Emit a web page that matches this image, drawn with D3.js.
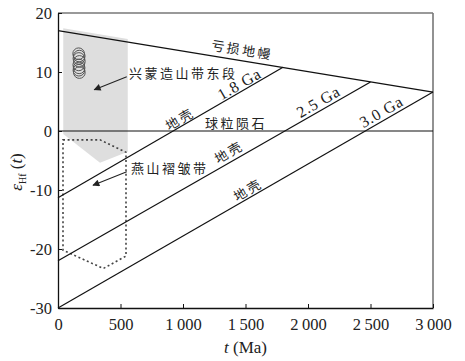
<!DOCTYPE html>
<html>
<head>
<meta charset="utf-8">
<script src="https://cdn.jsdelivr.net/npm/d3@7"></script>
<style>
  body { margin: 0; background: #fff; }
  svg text { font-family: "Liberation Serif", "DejaVu Serif", serif; }
  .cjk { font-family: "Noto Sans CJK SC", sans-serif; font-size: 13px; letter-spacing: 2.5px; fill: #222; }
</style>
</head>
<body>
<svg id="chart"></svg>
<script>
// axis ticks
var xTicks = [0, 500, 1000, 1500, 2000, 2500, 3000];
var yTicks = [-30, -20, -10, 0, 10, 20];

// evolution lines [t (Ma), eHf]
var depletedMantle = [[0, 17.0], [3000, 6.6]];
var chondrite = [[0, 0], [3000, 0]];
var crust18 = [[0, -11.3], [1800, 10.8]];
var crust25 = [[0, -22.0], [2500, 8.3]];
var crust30 = [[0, -30.0], [3000, 6.6]];

// fields
var xingmengArea = [[42, 17.4], [558, 15.6], [558, -3.5], [336, -5.4], [42, -0.5]];
var yanshanArea = [[40, -1.5], [336, -1.5], [544, -3.6], [544, -21.2], [363, -23.3], [40, -20.2]];

// zircon analyses
var zircons = [[165, 13.1], [170, 12.7], [167, 12.3], [171, 11.8], [166, 11.2], [169, 10.7], [167, 10.3], [171, 9.9]];

// labels along lines: [text, t, eHf, line, cjk]
var lineLabels = [
  ["亏损地幔", 1473, 13.7, depletedMantle, true],
  ["1.8 Ga", 1449, 8.0, crust18, false],
  ["地壳", 977, 2.0, crust18, true],
  ["2.5 Ga", 2082, 5.0, crust25, false],
  ["地壳", 1369, -3.6, crust25, true],
  ["3.0 Ga", 2586, 3.3, crust30, false],
  ["地壳", 1521, -10.0, crust30, true]
];

// callouts: [text, textT, textE, tailT, tailE, headT, headE]
var callouts = [
  ["兴蒙造山带东段", 568, 9.8, 550, 9.2, 290, 7.0],
  ["燕山褶皱带", 584, -6.3, 550, -6.9, 280, -9.2]
];

var config = { w: 465, h: 361, lpad: 58, tpad: 13, rpad: 32, bpad: 53 };

var svg = d3.select("#chart").attr("width", config.w).attr("height", config.h);

var x = d3.scaleLinear().domain([0, 3000]).range([config.lpad, config.w - config.rpad]);
var y = d3.scaleLinear().domain([-30, 20]).range([config.h - config.bpad, config.tpad]);

var line = d3.line()
  .x(function(d) { return x(d[0]); })
  .y(function(d) { return y(d[1]); });

svg.append("defs").append("marker")
  .attr("id", "arrow")
  .attr("viewBox", "0 0 10 10")
  .attr("refX", 9).attr("refY", 5)
  .attr("markerWidth", 9).attr("markerHeight", 7)
  .attr("markerUnits", "userSpaceOnUse")
  .attr("orient", "auto")
  .append("path")
  .attr("d", "M0,0L10,5L0,10z")
  .attr("fill", "#222");

var g = svg.append("g");

// fields
g.append("path")
  .attr("d", line(xingmengArea) + "Z")
  .attr("fill", "#dedede");

g.append("path")
  .attr("d", line(yanshanArea) + "Z")
  .attr("fill", "none")
  .attr("stroke", "#444")
  .attr("stroke-width", 1.6)
  .attr("stroke-dasharray", "2,2.6");

// frame top/right
g.append("line")
  .attr("x1", x(0)).attr("x2", x(3000)).attr("y1", y(20)).attr("y2", y(20))
  .attr("stroke", "#777").attr("stroke-width", 1.3);
g.append("line")
  .attr("x1", x(3000)).attr("x2", x(3000)).attr("y1", y(20)).attr("y2", y(-30))
  .attr("stroke", "#777").attr("stroke-width", 1.6);

// evolution lines
[depletedMantle, chondrite, crust18, crust25, crust30].forEach(function(d) {
  g.append("path")
    .attr("d", line(d))
    .attr("fill", "none")
    .attr("stroke", "#111")
    .attr("stroke-width", 1.2);
});

// zircons
g.selectAll("circle.zr")
  .data(zircons)
  .enter().append("circle")
  .attr("class", "zr")
  .attr("cx", function(d) { return x(d[0]); })
  .attr("cy", function(d) { return y(d[1]); })
  .attr("r", 5.8)
  .attr("fill", "none")
  .attr("stroke", "#555")
  .attr("stroke-width", 1);

// axes
var xAxis = d3.axisBottom(x).tickValues(xTicks).tickSizeInner(-4).tickSizeOuter(0)
  .tickPadding(10)
  .tickFormat(function(d) { return d >= 1000 ? Math.floor(d / 1000) + "\u2009" + d3.format("03d")(d % 1000) : d; });
var gx = svg.append("g")
  .attr("transform", "translate(0," + y(-30) + ")")
  .call(xAxis);
gx.select(".domain").attr("stroke", "#111").attr("stroke-width", 1.3);
gx.selectAll(".tick line").attr("stroke", "#111");
gx.selectAll(".tick text").attr("font-size", 16.5).attr("fill", "#222")
  .attr("font-family", "Liberation Serif");

var yAxis = d3.axisLeft(y).tickValues(yTicks).tickSizeInner(-4).tickSizeOuter(0)
  .tickPadding(6)
  .tickFormat(function(d) { return String(d); });
var gy = svg.append("g")
  .attr("transform", "translate(" + x(0) + ",0)")
  .call(yAxis);
gy.select(".domain").attr("stroke", "#111").attr("stroke-width", 1.3);
gy.selectAll(".tick line").attr("stroke", "#111");
gy.selectAll(".tick text").attr("font-size", 16.5).attr("fill", "#222")
  .attr("font-family", "Liberation Serif");

// labels along lines
lineLabels.forEach(function(l) {
  var p0 = l[3][0], p1 = l[3][1];
  var ang = Math.atan2(y(p1[1]) - y(p0[1]), x(p1[0]) - x(p0[0])) * 180 / Math.PI;
  var t = g.append("text")
    .attr("transform", "translate(" + x(l[1]) + "," + y(l[2]) + ") rotate(" + ang + ")")
    .attr("text-anchor", "middle")
    .attr("dy", "0.35em")
    .text(l[0]);
  if (l[4]) {
    t.attr("class", "cjk");
  } else {
    t.attr("font-size", 16).attr("letter-spacing", 0.8).attr("fill", "#222");
  }
});

// chondrite label
g.append("text")
  .attr("class", "cjk")
  .attr("x", x(1425)).attr("y", y(1.2))
  .attr("dy", "0.35em")
  .attr("text-anchor", "middle")
  .text("球粒陨石");

// callouts
callouts.forEach(function(c) {
  g.append("line")
    .attr("x1", x(c[3])).attr("y1", y(c[4]))
    .attr("x2", x(c[5])).attr("y2", y(c[6]))
    .attr("stroke", "#222").attr("stroke-width", 1.1)
    .attr("marker-end", "url(#arrow)");
  g.append("text")
    .attr("class", "cjk")
    .attr("x", x(c[1])).attr("y", y(c[2]))
    .attr("dy", "0.35em")
    .text(c[0]);
});

// axis titles
var xt = svg.append("text")
  .attr("x", (x(0) + x(3000)) / 2)
  .attr("y", 353)
  .attr("text-anchor", "middle")
  .attr("font-size", 17)
  .attr("fill", "#222");
xt.append("tspan").attr("font-style", "italic").text("t");
xt.append("tspan").text(" (Ma)");

var yt = svg.append("text")
  .attr("transform", "translate(22,172) rotate(-90)")
  .attr("text-anchor", "middle")
  .attr("font-size", 17)
  .attr("fill", "#222");
yt.append("tspan").attr("font-style", "italic").text("ε");
yt.append("tspan").attr("font-size", 10).attr("dy", 4).text("Hf");
yt.append("tspan").attr("dy", -4).text(" (");
yt.append("tspan").attr("font-style", "italic").text("t");
yt.append("tspan").text(")");
</script>
</body>
</html>
